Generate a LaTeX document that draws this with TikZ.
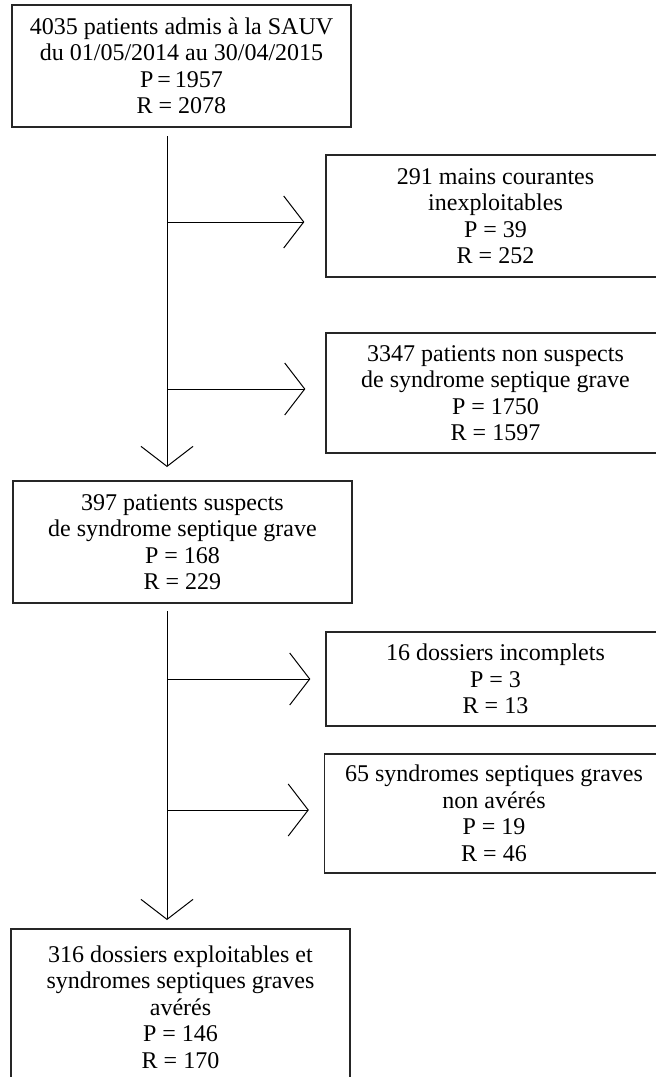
\documentclass[tikz,border=0pt]{standalone}
\usepackage{fontspec}
\setmainfont{Liberation Serif}
\usetikzlibrary{arrows.meta}
\begin{document}
\begin{tikzpicture}[x=1pt,y=-1pt,
  box/.style={draw=black!85, line width=1.3pt, minimum width=339pt, inner sep=0pt, align=center,
    font=\fontsize{24}{26.5}\selectfont},
  arr/.style={line width=1pt, -{Straight Barb[length=20pt,width=52pt]}}
]
\useasboundingbox (0,0) rectangle (656,1077);
\clip (0,0) rectangle (656,1077);
\node[box, minimum height=122pt] (n1) at (181.5,66) {4035 patients admis à la SAUV\\du 01/05/2014 au 30/04/2015\\P\,=\,1957\\R = 2078};
\node[box, minimum height=122pt] (n2) at (495.5,216) {291 mains courantes\\inexploitables\\P = 39\\R = 252};
\node[box, minimum height=120pt] (n3) at (495.5,393) {3347 patients non suspects\\de syndrome septique grave\\P = 1750\\R = 1597};
\node[box, minimum height=122pt] (n4) at (182.5,542) {397 patients suspects\\de syndrome septique grave\\P = 168\\R = 229};
\node[box, minimum height=94pt] (n5) at (495.5,679) {16 dossiers incomplets\\P = 3\\R = 13};
\node[box, minimum height=119pt] (n6) at (494,813.5) {65 syndromes septiques graves\\non avérés\\P = 19\\R = 46};
\node[box, minimum height=156pt] (n7) at (180.5,1007) {316 dossiers exploitables et\\syndromes septiques graves\\avérés\\P = 146\\R = 170};
\coordinate (t1) at (167,136);
\coordinate (t1e) at (167,467);
\coordinate (t2) at (167,611);
\coordinate (t2e) at (167,920);
\coordinate (b1) at (167,222);
\coordinate (b2) at (167,389);
\coordinate (b3) at (167,679);
\coordinate (b4) at (167,810);
\draw[arr] (t1) -- (t1e);
\draw[arr] (t2) -- (t2e);
\draw[arr, shorten >=21pt] (b1) -- (b1 -| n2.west);
\draw[arr, shorten >=20pt] (b2) -- (b2 -| n3.west);
\draw[arr, shorten >=15pt] (b3) -- (b3 -| n5.west);
\draw[arr, shorten >=15pt] (b4) -- (b4 -| n6.west);
\end{tikzpicture}
\end{document}
